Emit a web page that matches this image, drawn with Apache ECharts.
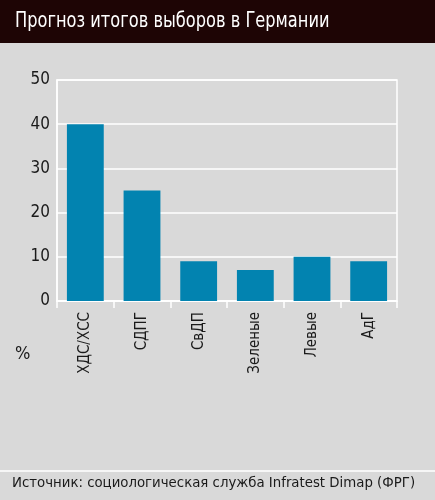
<!DOCTYPE html>
<html><head><meta charset="utf-8">
<script src="https://cdn.jsdelivr.net/npm/echarts@6/dist/echarts.min.js"></script>
<style>html,body{margin:0;padding:0;background:#d9d9d9;}#c{width:435px;height:500px;}</style>
</head><body><div id="c"></div>
<script>
const categories = ['ХДС/ХСС', 'СДПГ', 'СвДП', 'Зеленые', 'Левые', 'АдГ'];
const values = [40, 25, 9, 7, 10, 9];
const yTicks = { min: 0, max: 50, interval: 10 };
const titleText = 'Прогноз итогов выборов в Германии';
const sourceText = 'Источник: социологическая служба Infratest Dimap (ФРГ)';
const unitText = '%';

const FONT = '"Liberation Sans Narrow","DejaVu Sans Condensed","Roboto Condensed","Arial Narrow",sans-serif';
const chart = echarts.init(document.getElementById('c'));
chart.setOption({
  backgroundColor: '#d9d9d9',
  animation: false,
  graphic: [
    { type: 'rect', z: -1, shape: { x: 0, y: 0, width: 435, height: 43 }, style: { fill: '#1e0505' } },
    { type: 'text', x: 15, y: 10, scaleX: 0.82, style: { text: titleText, fill: '#ffffff', font: '22px ' + FONT } },
    { type: 'line', shape: { x1: 0, y1: 471, x2: 435, y2: 471 }, style: { stroke: '#ffffff', lineWidth: 1.5 } },
    { type: 'text', x: 12, y: 476, style: { text: sourceText, fill: '#1a1a1a', font: '14.8px ' + FONT } },
    { type: 'text', x: 15, y: 345, style: { text: unitText, fill: '#1a1a1a', font: '18px ' + FONT } }
  ],
  grid: { left: 57, right: 38, top: 80, bottom: 199, show: true, borderColor: '#ffffff', borderWidth: 1.5, backgroundColor: 'transparent' },
  xAxis: {
    type: 'category', data: categories,
    axisLine: { lineStyle: { color: '#ffffff', width: 1.5 } },
    axisTick: { show: true, length: 7, lineStyle: { color: '#ffffff', width: 1.5 } },
    axisLabel: { rotate: 90, margin: 11, color: '#1a1a1a', fontFamily: FONT, fontSize: 15 }
  },
  yAxis: {
    type: 'value', min: yTicks.min, max: yTicks.max, interval: yTicks.interval,
    axisLine: { show: true, lineStyle: { color: '#ffffff', width: 1.5 } },
    axisTick: { show: false },
    splitLine: { lineStyle: { color: '#ffffff', width: 1.5 } },
    axisLabel: { margin: 7, color: '#1a1a1a', fontFamily: FONT, fontSize: 17 }
  },
  series: [{
    type: 'bar', data: values, barWidth: '65%',
    itemStyle: { color: '#0283b0' }
  }]
});
</script></body></html>
